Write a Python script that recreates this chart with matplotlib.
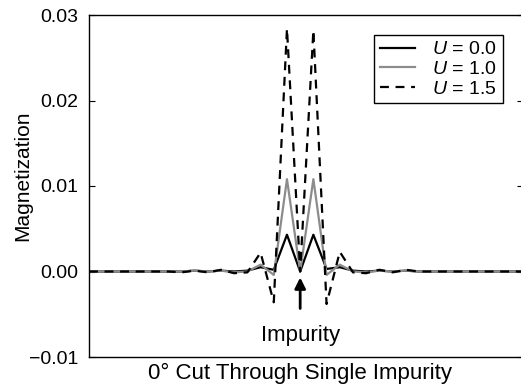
import numpy as np
import matplotlib
matplotlib.use('Agg')
import matplotlib.pyplot as plt

plt.rcParams['font.family'] = ['Liberation Sans', 'DejaVu Sans']
plt.rcParams['mathtext.fontset'] = 'custom'
plt.rcParams['mathtext.it'] = 'Liberation Sans:italic'
plt.rcParams['mathtext.rm'] = 'Liberation Sans'

# site index along the 0 degree cut, impurity at 0
sites = np.arange(-16, 18)

# magnetization per site
mag_u00 = [0, 0, 0, 0, 0, 0, 0, 0.0000, 0.0001, 0.0000, 0.0001, 0.0000, 0.0001,
           0.0005, 0.0002, 0.0043, 0.0, 0.0043, 0.0003, 0.0005, 0.0001, 0.0000,
           0.0001, 0.0000, 0.0001, 0, 0, 0, 0, 0, 0, 0, 0, 0]
mag_u10 = [0, 0, 0, 0, 0, 0, 0, 0.0000, 0.0001, 0.0000, 0.0001, -0.0001, 0.0000,
           0.0008, -0.0004, 0.0108, 0.0, 0.0108, -0.0004, 0.0008, 0.0000, -0.0001,
           0.0001, 0.0000, 0.0001, 0, 0, 0, 0, 0, 0, 0, 0, 0]
mag_u15 = [0, 0, 0, 0, 0, 0, 0, -0.0001, 0.0001, -0.0001, 0.0002, -0.0002, -0.0001,
           0.0022, -0.0036, 0.0284, 0.0, 0.0282, -0.0038, 0.0023, -0.0001, -0.0002,
           0.0002, -0.0001, 0.0002, 0, 0, 0, 0, 0, 0, 0, 0, 0]

labels = [r'$U$ = 0.0', r'$U$ = 1.0', r'$U$ = 1.5']
y_ticks = [-0.01, 0.0, 0.01, 0.02, 0.03]

fig = plt.figure(figsize=(5.21, 3.90), dpi=100)
ax = fig.add_axes([89/521, 33/390, 1.003 - 89/521, 342/390])

ax.plot(sites, mag_u00, color='black', lw=1.6, label=labels[0])
ax.plot(sites, mag_u10, color='#8c8c8c', lw=1.6, label=labels[1])
ax.plot(sites, mag_u15, color='black', lw=1.6, ls=(0, (4, 3)), label=labels[2])

ax.set_xlim(-16, 16.85)
ax.set_ylim(-0.01, 0.03)
ax.set_yticks(y_ticks)
ax.set_yticklabels(['\u22120.01', '0.00', '0.01', '0.02', '0.03'])
ax.set_xticks([])
ax.tick_params(axis='y', direction='in', length=4, labelsize=14, right=True, pad=8)
for s in ax.spines.values():
    s.set_linewidth(1.0)

ax.set_ylabel('Magnetization', fontsize=15)
ax.yaxis.set_label_coords(-0.132, 0.53)

ax.annotate('Impurity', xy=(0, -0.0007), xytext=(0, -0.0075),
            ha='center', va='center', fontsize=16,
            arrowprops=dict(arrowstyle='-|>', color='black', lw=2,
                            mutation_scale=16, shrinkA=10, shrinkB=0))

fig.text(300/521, 17/390, '0\u00b0 Cut Through Single Impurity',
         ha='center', va='center', fontsize=16)

leg = ax.legend(loc='upper right', bbox_to_anchor=(0.954, 0.9415), borderaxespad=0,
                fancybox=False, edgecolor='black', framealpha=1, fontsize=14,
                handlelength=1.8, handletextpad=0.9, labelspacing=0.1,
                borderpad=0.3)
leg.get_frame().set_linewidth(1.0)

fig.savefig('out.png', dpi=100)
